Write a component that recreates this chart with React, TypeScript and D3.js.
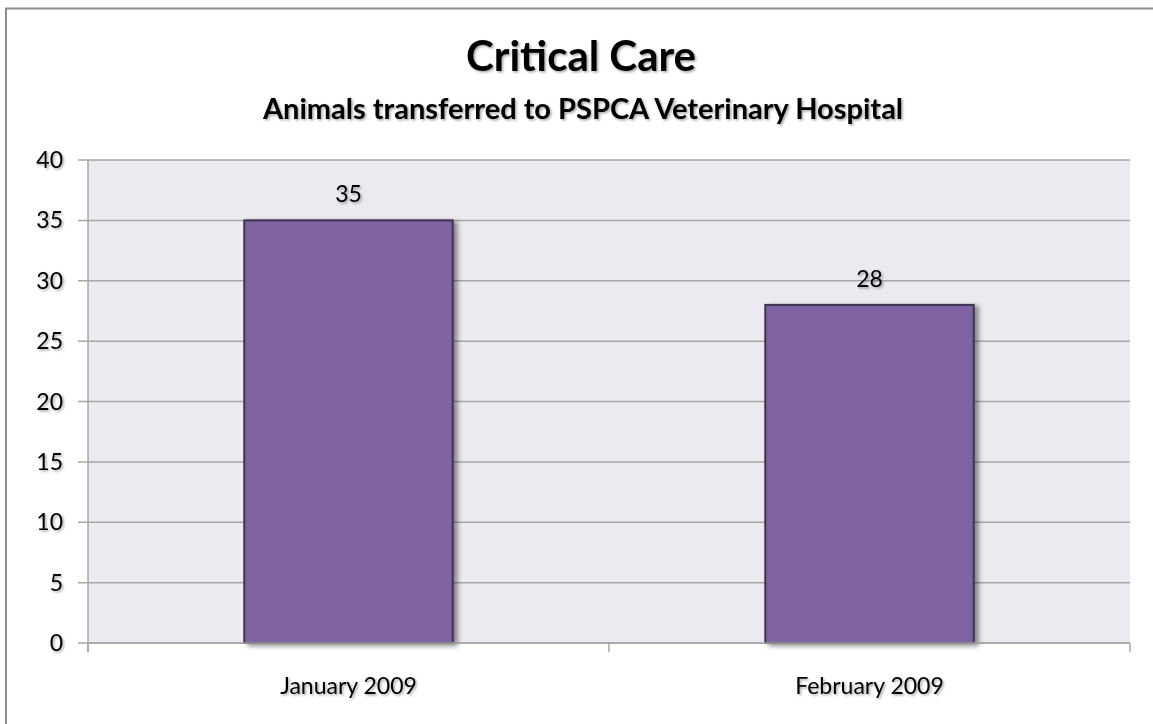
import * as d3 from 'd3'

const categories = ['January 2009', 'February 2009']
const values = [35, 28]
const yTicks = [0, 5, 10, 15, 20, 25, 30, 35, 40]

const width = 1153
const height = 724
const plot = { left: 88, right: 1130, top: 160, bottom: 643 }
const font = 'Lato, "Open Sans", sans-serif'

export default function App() {
  const x = d3.scaleBand<string>()
    .domain(categories)
    .range([plot.left, plot.right])
    .paddingInner(0.6)
    .paddingOuter(0.3)
  const y = d3.scaleLinear().domain([0, 40]).range([plot.bottom, plot.top])

  // category boundaries for the little ticks under the axis
  const step = (plot.right - plot.left) / categories.length
  const xTicks = d3.range(categories.length + 1).map(i => plot.left + i * step)

  return (
    <svg width={width} height={height} style={{ position: 'absolute', left: 0, top: 0, background: '#fff' }}>
      <defs>
        <filter id="txtShadow" x="-10%" y="-30%" width="120%" height="160%">
          <feDropShadow dx="1.5" dy="1.5" stdDeviation="1.2" floodColor="#000" floodOpacity="0.35" />
        </filter>
        <filter id="barShadow" x="-10%" y="-10%" width="125%" height="125%">
          <feDropShadow dx="4" dy="2" stdDeviation="2.5" floodColor="#000" floodOpacity="0.45" />
        </filter>
      </defs>

      <rect x={6} y={8.5} width={1170} height={740} fill="#fff" stroke="#8c8c8c" strokeWidth={2} />

      <text x={581} y={71} textAnchor="middle" fontFamily={font} fontWeight="bold" fontSize={42} fill="#000" filter="url(#txtShadow)">
        Critical Care
      </text>
      <text x={583} y={119} textAnchor="middle" fontFamily={font} fontWeight="bold" fontSize={29} fill="#000" filter="url(#txtShadow)">
        Animals transferred to PSPCA Veterinary Hospital
      </text>

      <rect x={plot.left} y={plot.top} width={plot.right - plot.left} height={plot.bottom - plot.top} fill="#ECEAF0" />

      {yTicks.map(t => (
        <g key={t}>
          <line x1={plot.left - 10} x2={plot.right} y1={y(t)} y2={y(t)} stroke="#a6a6a6" strokeWidth={1.5} />
          <text x={63} y={y(t)} dy="0.35em" textAnchor="end" fontFamily={font} fontSize={23} fill="#000" filter="url(#txtShadow)">
            {t}
          </text>
        </g>
      ))}

      <line x1={plot.left} x2={plot.left} y1={plot.top} y2={plot.bottom + 9} stroke="#a6a6a6" strokeWidth={1.5} />
      {xTicks.map((t, i) => (
        <line key={i} x1={t} x2={t} y1={plot.bottom} y2={plot.bottom + 9} stroke="#a6a6a6" strokeWidth={1.5} />
      ))}

      {categories.map((c, i) => (
        <g key={c}>
          <rect
            x={x(c)!}
            y={y(values[i])}
            width={x.bandwidth()}
            height={y(0) - y(values[i])}
            fill="#8064A2"
            stroke="#3f3151"
            strokeWidth={2}
            filter="url(#barShadow)"
          />
          <text x={x(c)! + x.bandwidth() / 2} y={y(values[i]) - 18} textAnchor="middle" fontFamily={font} fontSize={23} fill="#000" filter="url(#txtShadow)">
            {values[i]}
          </text>
          <text x={x(c)! + x.bandwidth() / 2} y={694} textAnchor="middle" fontFamily={font} fontSize={23} fill="#000" filter="url(#txtShadow)">
            {c}
          </text>
        </g>
      ))}

      <line x1={plot.left} x2={plot.right} y1={plot.bottom} y2={plot.bottom} stroke="#a6a6a6" strokeWidth={1.5} />
    </svg>
  )
}
